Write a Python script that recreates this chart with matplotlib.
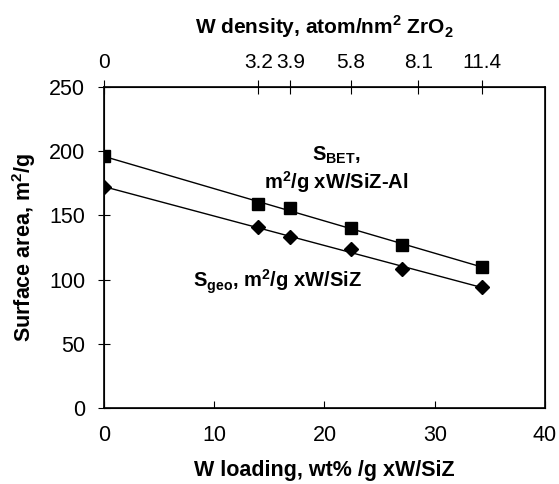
import numpy as np
import matplotlib
matplotlib.use("Agg")
import matplotlib.pyplot as plt

plt.rcParams['font.family'] = ['Liberation Sans', 'DejaVu Sans']
plt.rcParams['mathtext.fontset'] = 'custom'
plt.rcParams['mathtext.rm'] = 'Liberation Sans'
plt.rcParams['mathtext.bf'] = 'Liberation Sans:bold'

# W loading, wt% (bottom axis)
w_loading = [0, 14.0, 16.9, 22.4, 27.0, 34.3]
# surface areas, m2/g
s_bet = [196, 159, 156, 140, 127, 110]
s_geo = [172, 141, 133, 124, 108, 94]

# top axis: W density labels and where they sit on the loading axis
density_pos = [0, 14.0, 16.9, 22.4, 28.5, 34.3]
density_labels = ['0', '3.2', '3.9', '5.8', '8.1', '11.4']

fig = plt.figure(figsize=(5.59, 4.84), dpi=100)
ax = fig.add_axes([0.186, 0.157, 0.789, 0.663])

x = np.array(w_loading)
for y, marker, ms in [(s_bet, 's', 8), (s_geo, 'D', 7.5)]:
    # linear trend line through the points
    k, b = np.polyfit(x, y, 1)
    ax.plot(x, k * x + b, color='black', lw=1)
    ax.plot(x, y, linestyle='none', marker=marker, color='black', markersize=ms)

ax.set_xlim(0, 40)
ax.set_ylim(0, 250)
ax.set_xticks([0, 10, 20, 30, 40])
ax.set_yticks([0, 50, 100, 150, 200, 250])
ax.tick_params(axis='x', direction='in', length=5, labelsize=15.5, pad=12)
ax.tick_params(axis='y', direction='inout', length=9, labelsize=15.5, pad=9)
for s in ax.spines.values():
    s.set_linewidth(1.2)

ax.set_xlabel('W loading, wt% /g xW/SiZ', fontsize=15.5, fontweight='bold', labelpad=10)
ax.set_ylabel('Surface area, m$^\\mathbf{2}$/g', fontsize=15.5, fontweight='bold', labelpad=8)

top = ax.twiny()
top.set_xlim(ax.get_xlim())
top.set_xticks(density_pos)
top.set_xticklabels(density_labels)
top.tick_params(axis='x', direction='inout', length=10, labelsize=15, pad=6)
top.set_xlabel('W density, atom/nm$^\\mathbf{2}$ ZrO$_\\mathbf{2}$', fontsize=15,
               fontweight='bold', labelpad=14)

ax.text(21.1, 197, 'S$_\\mathbf{BET}$,', ha='center', va='center', fontsize=14.5,
        fontweight='bold')
ax.text(21.1, 176, 'm$^\\mathbf{2}$/g xW/SiZ-Al', ha='center', va='center', fontsize=14.5,
        fontweight='bold')
ax.text(15.7, 98, 'S$_\\mathbf{geo}$, m$^\\mathbf{2}$/g xW/SiZ', ha='center', va='center',
        fontsize=14.5, fontweight='bold')

fig.savefig('out.png', dpi=100)
